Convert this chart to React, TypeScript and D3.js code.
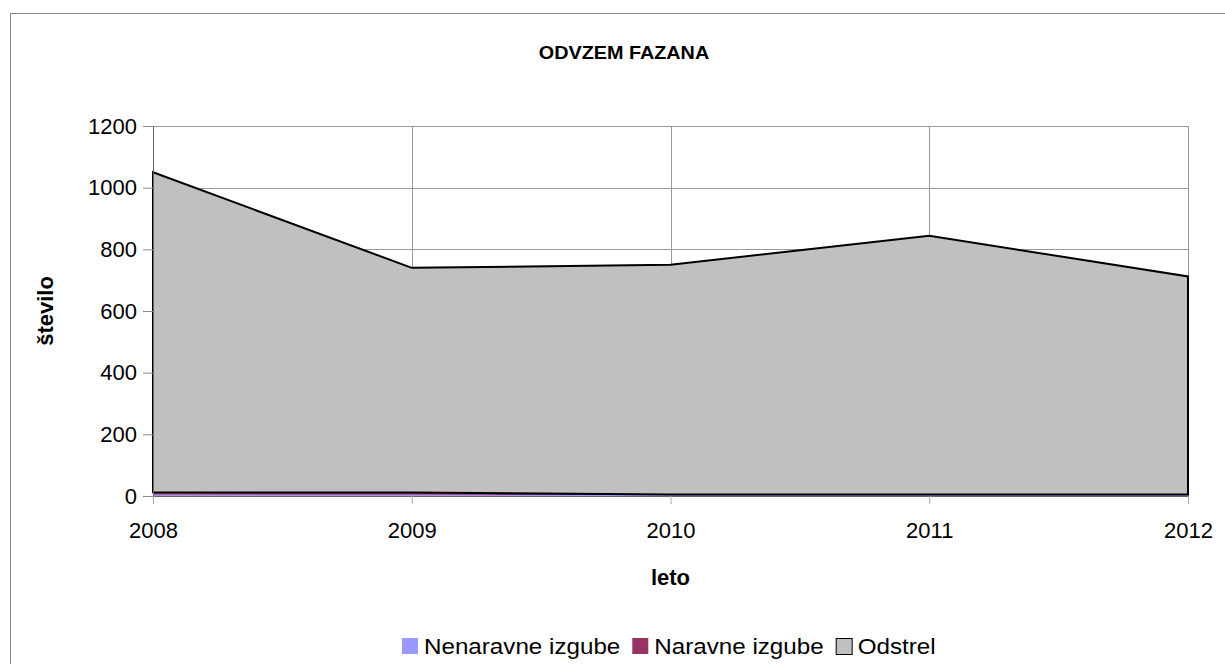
import React, { useRef, useEffect } from "react";
import * as d3 from "d3";

const years = ["2008", "2009", "2010", "2011", "2012"];
const nenaravne = [4, 4, 3, 3, 3];
const naravne = [8, 7, 2, 2, 2];
const odstrel = [1038, 729, 745, 839, 707];
const yTicks = [0, 200, 400, 600, 800, 1000, 1200];

const seriesNames = ["Nenaravne izgube", "Naravne izgube", "Odstrel"];
const seriesColors = ["#9999FF", "#993366", "#C0C0C0"];

const App = () => {
  const ref = useRef<SVGSVGElement>(null);

  useEffect(() => {
    const width = 1225;
    const height = 664;
    const left = 153, right = 1188, top = 126, bottom = 496;
    const font = "Liberation Sans, Arial, sans-serif";
    const stretch = 1.1; // reference text is a bit wider than Arial

    const svg = d3.select(ref.current);
    svg.selectAll("*").remove();

    svg.append("rect").attr("width", width).attr("height", height).attr("fill", "#fff");
    svg.append("rect")
      .attr("x", 10.5).attr("y", 13.5)
      .attr("width", width).attr("height", height)
      .attr("fill", "none").attr("stroke", "#888").attr("stroke-width", 1);

    const rows = years.map((y, i) => ({ year: y, a: nenaravne[i], b: naravne[i], c: odstrel[i] }));
    const stacked = d3.stack<any>().keys(["a", "b", "c"])(rows);

    const x = d3.scalePoint().domain(years).range([left, right]);
    const y = d3.scaleLinear().domain([0, 1200]).range([bottom, top]);

    // grid
    svg.append("g")
      .selectAll("line")
      .data(yTicks.filter(d => d > 0))
      .join("line")
      .attr("x1", left).attr("x2", right)
      .attr("y1", d => Math.round(y(d)) + 0.5).attr("y2", d => Math.round(y(d)) + 0.5)
      .attr("stroke", "#999");
    svg.append("g")
      .selectAll("line")
      .data(years.slice(1))
      .join("line")
      .attr("x1", d => Math.round(x(d)!) + 0.5).attr("x2", d => Math.round(x(d)!) + 0.5)
      .attr("y1", top).attr("y2", bottom)
      .attr("stroke", "#999");

    const area = d3.area<any>()
      .x((d, i) => x(years[i])!)
      .y0(d => y(d[0]))
      .y1(d => y(d[1]));

    svg.append("g")
      .selectAll("path")
      .data(stacked)
      .join("path")
      .attr("d", d => area(d as any))
      .attr("fill", (d, i) => seriesColors[i])
      .attr("stroke", (d, i) => (i === 2 ? "#000" : "none"))
      .attr("stroke-width", 2);

    // y axis
    const yAxis = svg.append("g")
      .attr("transform", `translate(${left},0)`)
      .call(d3.axisLeft(y).tickValues(yTicks).tickFormat(d3.format("d")).tickSize(10).tickSizeOuter(0).tickPadding(6));
    yAxis.select(".domain").attr("stroke", "#666");
    yAxis.selectAll(".tick line").attr("stroke", "#888");
    yAxis.selectAll("text")
      .attr("font-family", font).attr("font-size", 22).attr("fill", "#000");

    // x axis
    const xAxis = svg.append("g")
      .attr("transform", `translate(0,${bottom})`)
      .call(d3.axisBottom(x).tickSize(8).tickSizeOuter(0).tickPadding(18));
    xAxis.select(".domain").attr("stroke", "#666");
    xAxis.selectAll(".tick line").attr("stroke", "#aaa");
    xAxis.selectAll("text")
      .attr("font-family", font).attr("font-size", 22).attr("fill", "#000");

    // title and axis titles
    svg.append("text")
      .attr("transform", `translate(624,59) scale(${stretch},1)`)
      .attr("text-anchor", "middle")
      .attr("font-family", font).attr("font-size", 18).attr("font-weight", "bold")
      .text("ODVZEM FAZANA");

    svg.append("text")
      .attr("x", (left + right) / 2).attr("y", 585)
      .attr("text-anchor", "middle")
      .attr("font-family", font).attr("font-size", 22).attr("font-weight", "bold")
      .text("leto");

    svg.append("text")
      .attr("transform", `translate(53,${(top + bottom) / 2}) rotate(-90)`)
      .attr("text-anchor", "middle")
      .attr("font-family", font).attr("font-size", 22).attr("font-weight", "bold")
      .text("število");

    // legend
    const legend = svg.append("g").attr("transform", "translate(402,638)");
    let offset = 0;
    seriesNames.forEach((name, i) => {
      const g = legend.append("g").attr("transform", `translate(${offset},0)`);
      g.append("rect")
        .attr("x", i === 2 ? 0.5 : 0).attr("y", i === 2 ? 0.5 : 0)
        .attr("width", 16).attr("height", 16)
        .attr("fill", seriesColors[i])
        .attr("stroke", i === 2 ? "#000" : "none");
      const t = g.append("text")
        .attr("transform", `translate(22,16) scale(${stretch},1)`)
        .attr("font-family", font).attr("font-size", 22)
        .text(name);
      const w = (t.node() as SVGTextElement).getComputedTextLength() * stretch;
      offset += 22 + w + 12;
    });
  }, []);

  return (
    <svg
      ref={ref}
      width={1225}
      height={664}
      style={{ position: "absolute", left: 0, top: 0 }}
    />
  );
};

export default App;
